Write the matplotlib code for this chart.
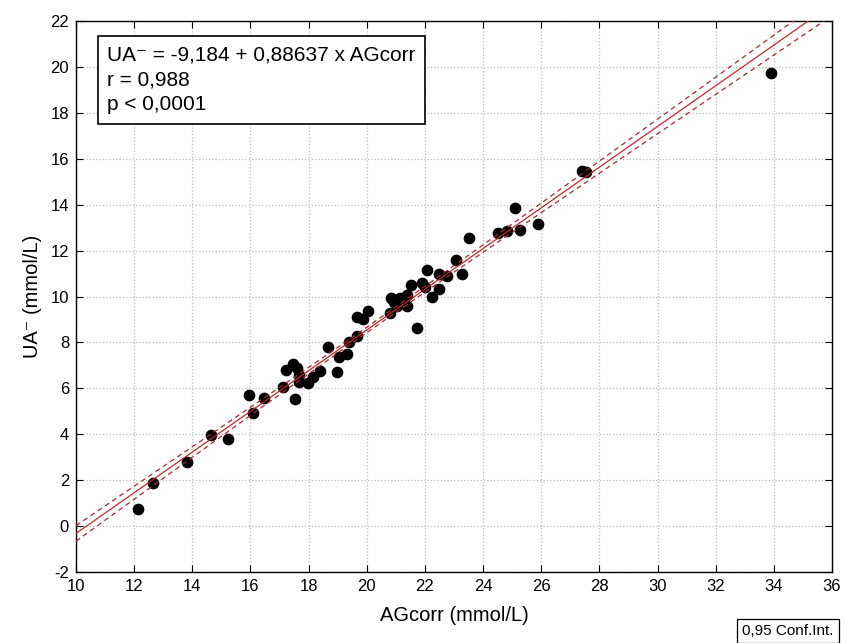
import numpy as np
import matplotlib
matplotlib.use("Agg")
import matplotlib.pyplot as plt

plt.rcParams['font.family'] = ['Liberation Sans', 'DejaVu Sans']
plt.rcParams['axes.unicode_minus'] = False

# AGcorr (mmol/L) vs UA- (mmol/L)
ag = [12.13, 12.65, 13.82, 14.64, 15.23, 15.95, 16.09, 16.46, 17.12, 17.22,
      17.46, 17.60, 17.67, 17.67, 17.53, 17.99, 18.15, 18.39, 18.97, 18.67,
      19.04, 19.32, 19.39, 19.66, 19.66, 19.87, 20.04, 20.80, 20.83, 21.07,
      21.04, 21.38, 21.38, 21.52, 21.73, 21.90, 22.00, 22.07, 22.24, 22.48,
      22.48, 22.76, 23.07, 23.27, 23.52, 24.51, 24.82, 25.10, 25.27, 25.89,
      27.40, 27.54, 33.90, 20.95, 21.15]
ua = [0.75, 1.88, 2.79, 3.97, 3.80, 5.71, 4.93, 5.58, 6.06, 6.80,
      7.06, 6.89, 6.58, 6.28, 5.54, 6.23, 6.50, 6.76, 6.71, 7.80,
      7.37, 7.50, 8.02, 8.28, 9.11, 9.02, 9.37, 9.28, 9.94, 9.89,
      9.59, 9.59, 10.07, 10.50, 8.63, 10.60, 10.40, 11.16, 9.98, 10.33,
      10.98, 10.89, 11.59, 10.98, 12.55, 12.77, 12.85, 13.86, 12.90, 13.16,
      15.47, 15.42, 19.74, 9.75, 9.95]

intercept = -9.184
slope = 0.88637
eq_lines = ["UA\u207b = -9,184 + 0,88637 x AGcorr", "r = 0,988", "p < 0,0001"]

x = np.array(ag)
y = np.array(ua)
n = len(x)
xs = np.linspace(10, 36, 200)
fit = intercept + slope * xs
resid = y - (intercept + slope * x)
s = np.sqrt(np.sum(resid ** 2) / (n - 2))
sxx = np.sum((x - x.mean()) ** 2)
# 95% band, scaled a bit to match the drawn width
half = 0.8 * 2.006 * s * np.sqrt(1.0 / n + (xs - x.mean()) ** 2 / sxx)

fig = plt.figure(figsize=(8.47, 6.43), dpi=100)
ax = fig.add_axes([0.0897, 0.1104, 0.8926, 0.8569])

ax.scatter(x, y, s=55, color='black', zorder=3)
ax.plot(xs, fit, color='#c0282d', lw=0.9, zorder=4)
ax.plot(xs, fit + half, color='#a52a2a', lw=0.9, ls=(0, (4, 3)), zorder=4)
ax.plot(xs, fit - half, color='#a52a2a', lw=0.9, ls=(0, (4, 3)), zorder=4)

ax.set_xlim(10, 36)
ax.set_ylim(-2, 22)
ax.set_xticks(np.arange(10, 37, 2))
ax.set_yticks(np.arange(-2, 23, 2))
ax.grid(True, ls=':', color='#bcbcbc', lw=0.9)
ax.tick_params(direction='in', top=True, right=True, length=5, labelsize=12,
               labeltop=False, labelright=False, pad=5)
for sp in ax.spines.values():
    sp.set_linewidth(1.0)

ax.set_xlabel("AGcorr (mmol/L)", fontsize=14.5, labelpad=9)
ax.set_ylabel("UA\u207b (mmol/L)", fontsize=14.5, labelpad=6)

ax.text(0.041, 0.955, "\n".join(eq_lines), transform=ax.transAxes, fontsize=15,
        va='top', ha='left', linespacing=1.38,
        bbox=dict(boxstyle='square,pad=0.45', fc='white', ec='black', lw=1.2))

fig.text(0.876, 0.008, "0,95 Conf.Int.", fontsize=11, ha='left', va='bottom',
         bbox=dict(boxstyle='square,pad=0.35', fc='white', ec='black', lw=0.9))

fig.savefig("out.png", dpi=100)
